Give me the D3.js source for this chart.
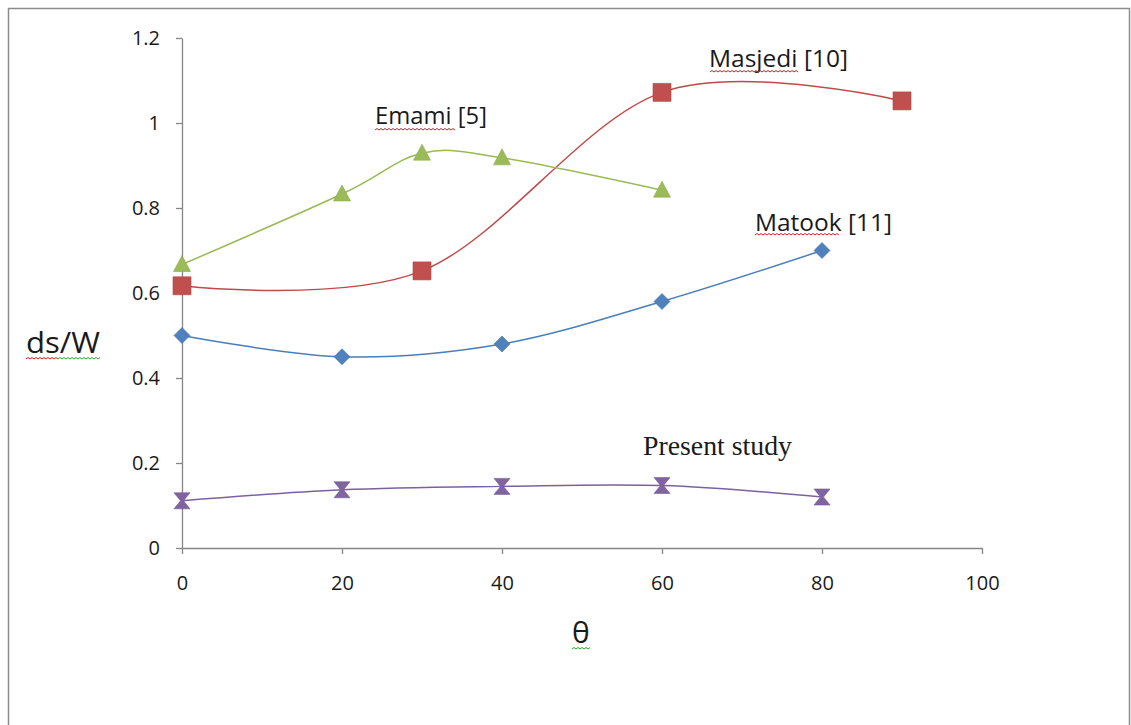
<!DOCTYPE html>
<html><head><meta charset="utf-8">
<script src="https://cdn.jsdelivr.net/npm/d3@7"></script>
<style>body{margin:0;background:#fff}svg{display:block}</style>
</head><body>
<svg id="c" width="1131" height="725"></svg>
<script>
const xTicks = [0, 20, 40, 60, 80, 100];
const yTicks = [0, 0.2, 0.4, 0.6, 0.8, 1, 1.2];
const yTickLabels = ["0", "0.2", "0.4", "0.6", "0.8", "1", "1.2"];

const matookX = [0, 20, 40, 60, 80];
const matookY = [0.50, 0.45, 0.48, 0.58, 0.70];
const masjediX = [0, 30, 60, 90];
const masjediY = [0.617, 0.652, 1.072, 1.052];
const emamiX = [0, 20, 30, 40, 60];
const emamiY = [0.667, 0.833, 0.929, 0.918, 0.842];
const presentX = [0, 20, 40, 60, 80];
const presentY = [0.111, 0.137, 0.145, 0.147, 0.12];

const seriesNames = ["Matook [11]", "Masjedi [10]", "Emami [5]", "Present study"];

const svg = d3.select("#c");
svg.append("path").attr("d","M8.5,730 L8.5,8.5 L1129.5,8.5 L1129.5,730")
  .attr("fill","none").attr("stroke","#8c8c8c").attr("stroke-width",1.5);

const x = d3.scaleLinear().domain([0,100]).range([182,982]);
const y = d3.scaleLinear().domain([0,1.2]).range([548,38]);
const axisColor = "#868686";
const tickFont = "'Open Sans', 'DejaVu Sans', sans-serif";

const gx = svg.append("g").attr("transform","translate(0,548)")
  .call(d3.axisBottom(x).tickValues(xTicks).tickSize(6).tickSizeOuter(0).tickPadding(22));
const gy = svg.append("g").attr("transform","translate(182,0)")
  .call(d3.axisLeft(y).tickValues(yTicks).tickFormat((d,i)=>yTickLabels[i]).tickSize(6).tickSizeOuter(0).tickPadding(16));
[gx,gy].forEach(g=>{
  g.attr("font-size",20).attr("font-family",tickFont);
  g.selectAll("path,line").attr("stroke",axisColor).attr("stroke-width",1.3);
  g.selectAll("text").attr("fill","#1a1a1a");
});

const line = d3.line().x(d=>x(d[0])).y(d=>y(d[1])).curve(d3.curveCardinal.tension(0));
const zip = (a,b)=>a.map((v,i)=>[v,b[i]]);

const series = [
  {pts: zip(matookX, matookY), line:"#4a7ebb", fill:"#4f81bd", shape:"diamond"},
  {pts: zip(masjediX, masjediY), line:"#be4b48", fill:"#c0504d", shape:"square"},
  {pts: zip(emamiX, emamiY), line:"#98b954", fill:"#9bbb59", shape:"triangle"},
  {pts: zip(presentX, presentY), line:"#7d60a0", fill:"#8064a2", shape:"hourglass"}
];
series.forEach(s=>{
  svg.append("path").attr("d", line(s.pts)).attr("fill","none")
    .attr("stroke", s.line).attr("stroke-width",1.5);
});
function shapePath(shape){
  if(shape==="diamond") return "M0,-8 L8,0 L0,8 L-8,0 Z";
  if(shape==="square") return "M-9,-9 L9,-9 L9,9 L-9,9 Z";
  if(shape==="triangle") return "M0,-9 L8.5,7 L-8.5,7 Z";
  return "M-8,-8 L8,-8 L1.5,0 L8,8 L-8,8 L-1.5,0 Z";
}
series.forEach(s=>{
  svg.append("g").selectAll("path").data(s.pts).join("path")
    .attr("transform", d=>`translate(${x(d[0])},${y(d[1])})`)
    .attr("d", shapePath(s.shape)).attr("fill", s.fill)
    .attr("stroke", d3.color(s.fill).darker(0.3)).attr("stroke-width",0.6);
});

function squiggle(x0, x1, yy, color){
  let d = `M${x0},${yy}`;
  let up = true;
  for(let xx=x0+2; xx<=x1; xx+=2){ d += ` L${xx},${yy + (up?-1.5:0)}`; up=!up; }
  svg.append("path").attr("d",d).attr("fill","none").attr("stroke",color).attr("stroke-width",1);
}
const labFont = "'Open Sans', 'DejaVu Sans', sans-serif";
function label(txt, lx, ly, size, fam, len){
  const t = svg.append("text").attr("x",lx).attr("y",ly).text(txt)
    .attr("fill","#1a1a1a").style("font-family",fam||labFont).style("font-size",size+"px");
  if(len) t.attr("textLength",len).attr("lengthAdjust","spacingAndGlyphs");
  return t;
}
label(seriesNames[1], 709, 67, 24, null, 139);
squiggle(710, 798, 72, "#d02020");
label(seriesNames[2], 375, 124, 24, null, 112);
squiggle(375, 455, 130, "#d02020");
label(seriesNames[0], 755, 231, 24, null, 137);
squiggle(755, 840, 235, "#d02020");
label(seriesNames[3], 643, 455, 27, "'Liberation Serif', 'DejaVu Serif', serif", 149);

label("ds/W", 26, 353, 29, null, 74);
squiggle(26, 58, 359, "#d02020");
squiggle(58, 100, 359, "#30a030");
label("θ", 572, 643, 30);
squiggle(572, 590, 649, "#30a030");
</script>
</body></html>
